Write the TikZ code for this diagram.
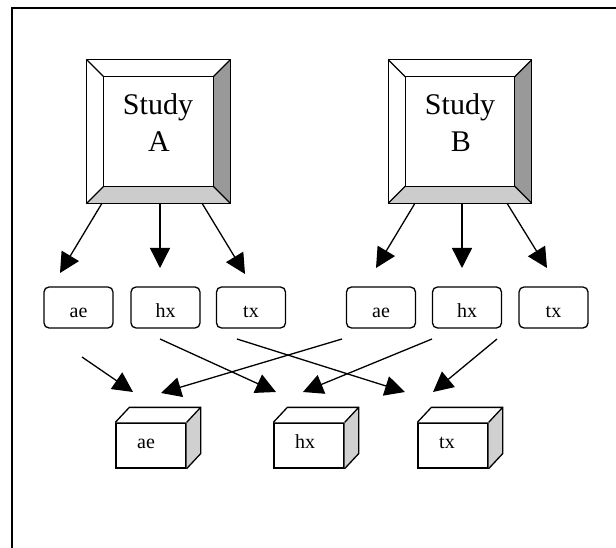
\documentclass[tikz,border=0pt]{standalone}
\usepackage{fontspec}
\setmainfont{Liberation Serif}
\usetikzlibrary{arrows.meta,calc}
\definecolor{bevdark}{HTML}{999999}
\definecolor{bevlight}{HTML}{CCCCCC}
\definecolor{cubeside}{HTML}{D0D0D0}
\tikzset{
  ln/.style={line width=1.3pt,line join=miter},
  arr/.style={line width=1.3pt,-{Triangle[length=20pt,width=20pt]}},
  smallbox/.style={draw,line width=1.3pt,rounded corners=5pt,minimum width=69pt,minimum height=41pt,
     inner sep=0pt,text height=19pt,text depth=0pt,font=\fontsize{20}{22}\selectfont},
  cubefront/.style={draw,fill=white,line width=1.3pt,minimum width=70pt,minimum height=45pt,
     inner sep=0pt,text height=6pt,text depth=0pt,font=\fontsize{20}{22}\selectfont},
  bevelnode/.style={minimum width=143pt,minimum height=143pt,inner sep=0pt},
  studytext/.style={anchor=base,font=\fontsize{30}{36}\selectfont,inner sep=0pt}
}
\newcommand\mybevel[1]{%
  \fill[white] (#1.north west) -- (#1.north east) -- ($(#1.north east)+(-17,17)$) -- ($(#1.north west)+(17,17)$) -- cycle;
  \fill[white] (#1.north west) -- ($(#1.north west)+(17,17)$) -- ($(#1.south west)+(17,-17)$) -- (#1.south west) -- cycle;
  \fill[bevdark] (#1.north east) -- ($(#1.north east)+(-17,17)$) -- ($(#1.south east)+(-17,-17)$) -- (#1.south east) -- cycle;
  \fill[bevlight] (#1.south west) -- ($(#1.south west)+(17,-17)$) -- ($(#1.south east)+(-17,-17)$) -- (#1.south east) -- cycle;
  \draw[ln] (#1.north west) rectangle (#1.south east);
  \draw[ln] ($(#1.north west)+(17,17)$) rectangle ($(#1.south east)+(-17,-17)$);
  \draw[ln] (#1.north west) -- ($(#1.north west)+(17,17)$);
  \draw[ln] (#1.north east) -- ($(#1.north east)+(-17,17)$);
  \draw[ln] (#1.south west) -- ($(#1.south west)+(17,-17)$);
  \draw[ln] (#1.south east) -- ($(#1.south east)+(-17,-17)$);
}
\newcommand\mycube[1]{%
  \fill[white] (#1.north west) -- ($(#1.north west)+(14,-15)$) -- ($(#1.north east)+(14,-15)$) -- (#1.north east) -- cycle;
  \fill[cubeside] (#1.north east) -- ($(#1.north east)+(14,-15)$) -- ($(#1.south east)+(14,-15)$) -- (#1.south east) -- cycle;
  \draw[ln] (#1.north west) -- ($(#1.north west)+(14,-15)$) -- ($(#1.north east)+(14,-15)$) -- ($(#1.south east)+(14,-15)$) -- (#1.south east);
  \draw[ln] (#1.north east) -- ($(#1.north east)+(14,-15)$);
}
\begin{document}
\begin{tikzpicture}[x=1pt,y=-1pt]
\useasboundingbox (0,0) rectangle (616,548);
% frame
\coordinate (fTL) at (12,8);
\coordinate (fTR) at (616,8);
\coordinate (fBL) at (12,548);
\draw[line width=1.3pt] (fBL) -- (fTL) -- (fTR);

% study boxes
\node[bevelnode] (sA) at (158.5,131.5) {};
\mybevel{sA}
\node[studytext] (sA1) at (158,115) {Study};
\node[studytext] (sA2) at (159,152) {A};
\node[bevelnode] (sB) at (460,131.5) {};
\mybevel{sB}
\node[studytext] (sB1) at (460,115) {Study};
\node[studytext] (sB2) at (461,152) {B};

% small boxes
\node[smallbox] (a1) at (78.5,307.5) {ae};
\node[smallbox] (h1) at (165.5,307.5) {hx};
\node[smallbox] (t1) at (251,307.5) {tx};
\node[smallbox] (a2) at (381,307.5) {ae};
\node[smallbox] (h2) at (467,307.5) {hx};
\node[smallbox] (t2) at (553.5,307.5) {tx};

% cubes
\node[cubefront] (ca) at (151,445.5) {\hspace*{-10pt}ae};
\mycube{ca}
\node[cubefront] (ch) at (309,445.5) {\hspace*{-8pt}hx};
\mycube{ch}
\node[cubefront] (ct) at (453,445.5) {\hspace*{-12pt}tx};
\mycube{ct}

% upper arrows
\coordinate (tA1) at (60,273);
\coordinate (tA2) at (160,268);
\coordinate (tA3) at (245,274);
\coordinate (tB1) at (376,268);
\coordinate (tB2) at (462,268);
\coordinate (tB3) at (547,268);
\draw[arr] ($(sA.south)+(-56.5,0)$) -- (tA1);
\draw[arr] ($(sA.south)+(1.5,0)$) -- (tA2);
\draw[arr] ($(sA.south)+(43.5,0)$) -- (tA3);
\draw[arr] ($(sB.south)+(-45,0)$) -- (tB1);
\draw[arr] ($(sB.south)+(2,0)$) -- (tB2);
\draw[arr] ($(sB.south)+(47,0)$) -- (tB3);

% lower arrows
\coordinate (s1) at (82,357);
\coordinate (s2) at (160,339);
\coordinate (s3) at (237,339);
\coordinate (s4) at (342,339);
\coordinate (s5) at (432,339);
\coordinate (s6) at (497,339);
\coordinate (e1) at (133,392);
\coordinate (e2) at (276,392);
\coordinate (e3) at (405,392);
\coordinate (e4) at (161,393);
\coordinate (e5) at (303,392);
\coordinate (e6) at (433,392);
\draw[arr] (s1) -- (e1);
\draw[arr] (s2) -- (e2);
\draw[arr] (s3) -- (e3);
\draw[arr] (s4) -- (e4);
\draw[arr] (s5) -- (e5);
\draw[arr] (s6) -- (e6);
\end{tikzpicture}
\end{document}
